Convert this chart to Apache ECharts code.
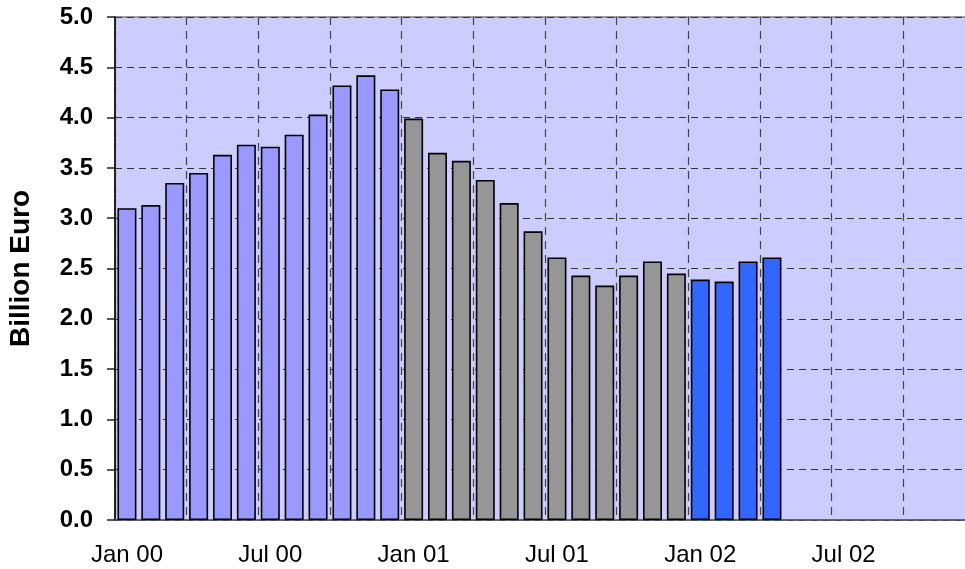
<!DOCTYPE html>
<html>
<head>
<meta charset="utf-8">
<script src="https://cdn.jsdelivr.net/npm/echarts@6/dist/echarts.min.js"></script>
<style>
  html, body { margin: 0; padding: 0; background: #fff; }
  #chart { width: 965px; height: 569px; }
</style>
</head>
<body>
<div id="chart"></div>
<script>
// month slots on the x axis, Jan 00 .. Dec 02
const monthNames = ['Jan', 'Feb', 'Mar', 'Apr', 'May', 'Jun', 'Jul', 'Aug', 'Sep', 'Oct', 'Nov', 'Dec'];
const yearLabels = ['00', '01', '02'];

// monthly values, billion euro
const values2000 = [3.10, 3.13, 3.35, 3.45, 3.63, 3.73, 3.71, 3.83, 4.03, 4.32, 4.42, 4.28];
const values2001 = [3.99, 3.65, 3.57, 3.38, 3.15, 2.87, 2.61, 2.43, 2.33, 2.43, 2.57, 2.45];
const values2002 = [2.39, 2.37, 2.57, 2.61];

const yTicks = { min: 0, max: 5, interval: 0.5 };

const categories = [];
yearLabels.forEach(y => monthNames.forEach(m => categories.push(m + ' ' + y)));

const colorFor = { y2000: '#9999FF', y2001: '#969696', y2002: '#3366FF' };
const barData = [
  ...values2000.map(v => ({ value: v, itemStyle: { color: colorFor.y2000 } })),
  ...values2001.map(v => ({ value: v, itemStyle: { color: colorFor.y2001 } })),
  ...values2002.map(v => ({ value: v, itemStyle: { color: colorFor.y2002 } }))
];

const chart = echarts.init(document.getElementById('chart'));
chart.setOption({
  animation: false,
  backgroundColor: '#ffffff',
  grid: {
    left: 115, top: 17, bottom: 49, width: 860,
    outerBoundsMode: 'none',
    show: true, backgroundColor: '#CCCCFF', borderColor: '#999999', borderWidth: 2
  },
  xAxis: {
    type: 'category',
    data: categories,
    boundaryGap: true,
    axisLine: { lineStyle: { color: '#555', width: 1.5 } },
    axisTick: { interval: 2, alignWithLabel: false, length: 8, lineStyle: { color: '#777', width: 1.5 } },
    axisLabel: { interval: 5, margin: 23, color: '#000', fontSize: 24, fontFamily: 'Liberation Sans, Arial, sans-serif' },
    splitLine: { show: true, interval: 2, lineStyle: { color: '#444', width: 1.2, type: [8, 6] } }
  },
  yAxis: {
    type: 'value',
    min: yTicks.min, max: yTicks.max, interval: yTicks.interval,
    name: 'Billion Euro',
    nameLocation: 'middle',
    nameGap: 80,
    nameTextStyle: { fontSize: 28, fontWeight: 'bold', color: '#000', fontFamily: 'Liberation Sans, Arial, sans-serif' },
    axisLine: { show: true, lineStyle: { color: '#222', width: 2 } },
    axisTick: { show: true, length: 8, lineStyle: { color: '#222', width: 1.5 } },
    axisLabel: {
      margin: 22, color: '#000', fontSize: 24, fontWeight: 'bold',
      fontFamily: 'Liberation Sans, Arial, sans-serif',
      formatter: v => v.toFixed(1)
    },
    splitLine: { show: true, lineStyle: { color: '#333', width: 1.2, type: [7, 5] } }
  },
  series: [{
    type: 'bar',
    data: barData,
    barWidth: 19,
    itemStyle: { borderColor: '#000', borderWidth: 1.6 }
  }]
});
</script>
</body>
</html>
